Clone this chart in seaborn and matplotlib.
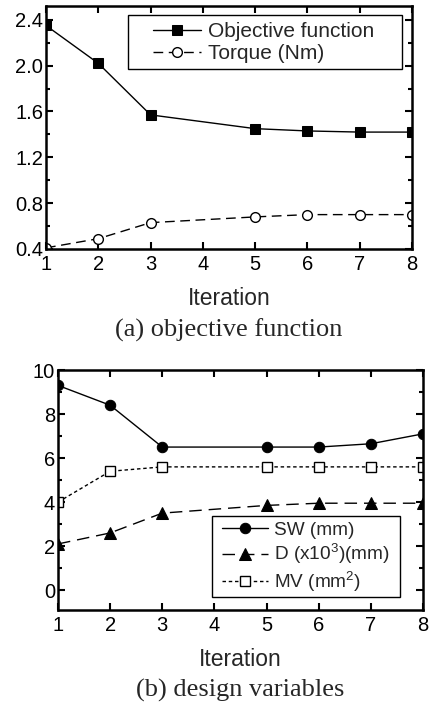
import matplotlib
matplotlib.use("Agg")
import matplotlib.pyplot as plt
import seaborn as sns
import pandas as pd
from matplotlib.ticker import MultipleLocator
from matplotlib.patches import Rectangle

iterations = [1, 2, 3, 5, 6, 7, 8]
objective = [2.35, 2.02, 1.57, 1.45, 1.43, 1.42, 1.42]
torque = [0.41, 0.49, 0.63, 0.68, 0.70, 0.70, 0.70]
sw = [9.3, 8.4, 6.5, 6.5, 6.5, 6.65, 7.1]
d = [2.1, 2.6, 3.5, 3.85, 3.95, 3.95, 3.95]
mv = [4.0, 5.4, 5.6, 5.6, 5.6, 5.6, 5.6]
xticks = [1, 2, 3, 4, 5, 6, 7, 8]

sns.set_style("ticks")
plt.rcParams['font.family'] = ['Liberation Sans', 'DejaVu Sans']
plt.rcParams['mathtext.fontset'] = 'custom'
plt.rcParams['mathtext.rm'] = 'Liberation Sans'

fig = plt.figure(figsize=(4.29, 7.06), dpi=100)
ax1 = fig.add_axes([46/429, 457/706, 366/429, 243/706])
ax2 = fig.add_axes([58/429, 96/706, 365/429, 240/706])

df1 = pd.DataFrame({"x": iterations, "obj": objective, "tq": torque})
sns.lineplot(data=df1, x="x", y="obj", ax=ax1, color="black", lw=1,
             marker="s", markersize=7, markerfacecolor="black",
             markeredgecolor="black", label="Objective function")
sns.lineplot(data=df1, x="x", y="tq", ax=ax1, color="black", lw=1,
             linestyle=(0, (7, 4)), marker="o", markersize=7,
             markerfacecolor="white", markeredgecolor="black",
             markeredgewidth=1, label="Torque (Nm)")

df2 = pd.DataFrame({"x": iterations, "sw": sw, "d": d, "mv": mv})
sns.lineplot(data=df2, x="x", y="sw", ax=ax2, color="black", lw=1,
             marker="o", markersize=7.5, markerfacecolor="black",
             markeredgecolor="black", label="SW (mm)")
sns.lineplot(data=df2, x="x", y="d", ax=ax2, color="black", lw=1,
             linestyle=(0, (9, 5)), marker="^", markersize=8.5,
             markerfacecolor="black", markeredgecolor="black",
             label=r"D (x10$^{3}$)(mm)")
sns.lineplot(data=df2, x="x", y="mv", ax=ax2, color="black", lw=1,
             linestyle=(0, (2.5, 2)), marker="s", markersize=6.5,
             markerfacecolor="white", markeredgecolor="black",
             markeredgewidth=1, label=r"MV (mm$^{2}$)")

for ax in (ax1, ax2):
    ax.set_xlim(1, 8)
    ax.set_xticks(xticks)
    for s in ax.spines.values():
        s.set_linewidth(1.8)
        s.set_color("black")
    ax.tick_params(which="both", direction="in", top=True, right=True,
                   width=1.5, labelsize=14.5, colors="black")
    ax.tick_params(axis="y", pad=2)
    ax.tick_params(axis="x", pad=4)
    ax.tick_params(which="major", length=5)
    ax.tick_params(which="minor", length=3)
    ax.tick_params(axis="x", which="minor", top=False, bottom=False)
    ax.set_xlabel("Iteration", fontsize=16.5, labelpad=9.5)
    ax.set_ylabel("")

ax1.set_ylim(0.4, 2.52)
ax1.set_yticks([0.4, 0.8, 1.2, 1.6, 2.0, 2.4])
ax1.set_yticklabels(["0.4", "0.8", "1.2", "1.6", "2.0", "2.4"])
ax1.yaxis.set_minor_locator(MultipleLocator(0.2))

ax2.set_ylim(-0.9, 10)
ax2.set_yticks([0, 2, 4, 6, 8, 10])
ax2.yaxis.set_minor_locator(MultipleLocator(1))


def px_to_axes(ax, box, px, py):
    # box = (left, top, width, height) of the axes in pixels
    l, t, w, h = box
    return (px - l) / w, 1 - (py - t) / h


box1 = (46, 6, 366, 243)
box2 = (58, 370, 365, 240)

# top legend: frame 128-402 x 15-69, content centred at (263.5, 42.5)
x0, y1 = px_to_axes(ax1, box1, 128, 15)
x1, y0 = px_to_axes(ax1, box1, 402, 69)
ax1.add_patch(Rectangle((x0, y0), x1 - x0, y1 - y0, transform=ax1.transAxes,
                        facecolor="white", edgecolor="black", lw=1, zorder=4))
leg1 = ax1.legend(loc="center", bbox_to_anchor=px_to_axes(ax1, box1, 263.5, 42.5),
                  fontsize=15, frameon=False, handlelength=2.3,
                  handletextpad=0.35, borderpad=0, labelspacing=0.15,
                  borderaxespad=0)
leg1.set_zorder(5)

# bottom legend: frame 212-400 x 516-597, content centred at (306, 557.5)
x0, y1 = px_to_axes(ax2, box2, 212, 516)
x1, y0 = px_to_axes(ax2, box2, 400, 597)
ax2.add_patch(Rectangle((x0, y0), x1 - x0, y1 - y0, transform=ax2.transAxes,
                        facecolor="white", edgecolor="black", lw=1, zorder=4))
leg2 = ax2.legend(loc="center", bbox_to_anchor=px_to_axes(ax2, box2, 306, 557.5),
                  fontsize=13.7, frameon=False, handlelength=2.4,
                  handletextpad=0.3, borderpad=0, labelspacing=0.15,
                  borderaxespad=0)
leg2.set_zorder(5)

fig.text(229/429, 1 - 330/706, "(a) objective function", ha="center",
         va="center", fontsize=19, family="Liberation Serif")
fig.text(240/429, 1 - 690/706, "(b) design variables", ha="center",
         va="center", fontsize=19, family="Liberation Serif")

fig.savefig("out.png", dpi=100)
